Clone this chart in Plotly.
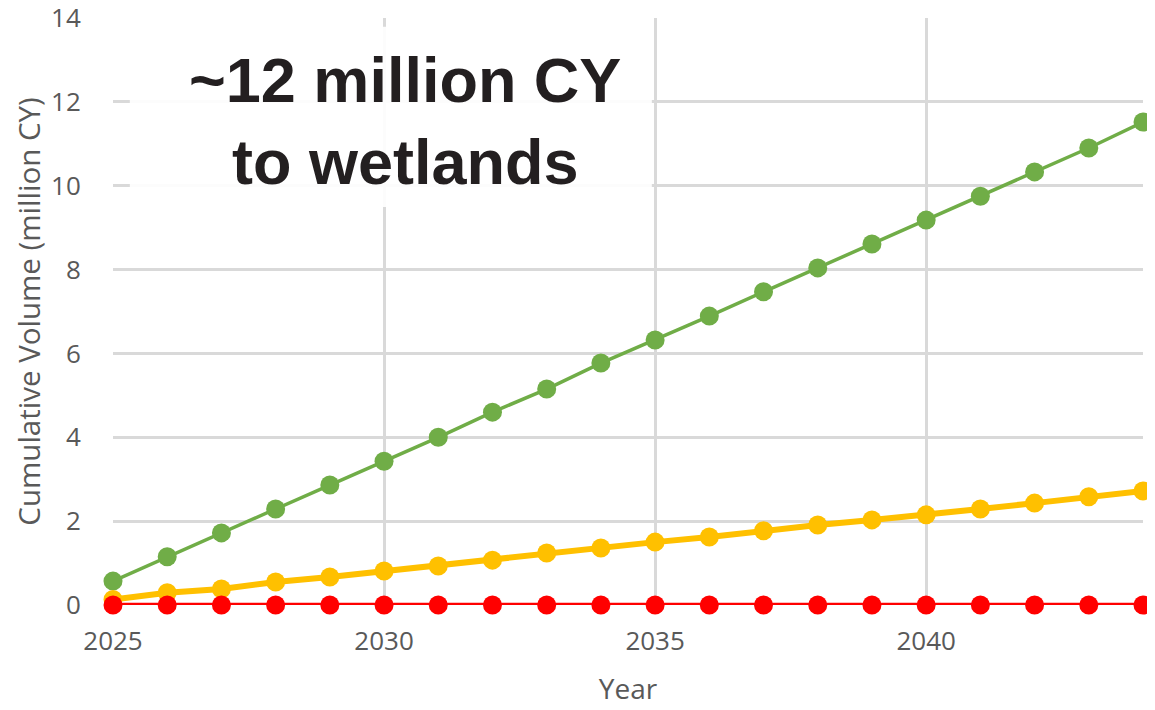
import plotly.graph_objects as go

years = list(range(2025, 2045))
green_vals = [0.57, 1.15, 1.72, 2.29, 2.86, 3.43, 4.0, 4.6, 5.15, 5.77,
              6.32, 6.89, 7.47, 8.04, 8.61, 9.18, 9.75, 10.33, 10.9, 11.52]
yellow_vals = [0.13, 0.29, 0.38, 0.55, 0.67, 0.81, 0.93, 1.07, 1.24, 1.36,
               1.5, 1.62, 1.77, 1.91, 2.03, 2.15, 2.29, 2.43, 2.58, 2.72]
red_vals = [0.0] * 20
x_ticks = [2025, 2030, 2035, 2040]
y_ticks = [0, 2, 4, 6, 8, 10, 12, 14]

fig = go.Figure()
fig.add_trace(go.Scatter(x=years, y=green_vals, mode="lines+markers",
                         line=dict(color="#70AD47", width=3.5),
                         marker=dict(color="#70AD47", size=19), cliponaxis=False))
fig.add_trace(go.Scatter(x=years, y=yellow_vals, mode="lines+markers",
                         line=dict(color="#FFC000", width=6),
                         marker=dict(color="#FFC000", size=19), cliponaxis=False))
fig.add_trace(go.Scatter(x=years, y=red_vals, mode="lines+markers",
                         line=dict(color="#FF0000", width=4.5),
                         marker=dict(color="#FF0000", size=19), cliponaxis=False))

font_fam = "Open Sans, Noto Sans, sans-serif"
# The page body has an 8px default margin, so the figure is sized to fit the window.
fig.update_layout(
    width=1147, height=702,
    margin=dict(l=105, r=12, t=10, b=105),
    paper_bgcolor="white", plot_bgcolor="white",
    showlegend=False,
    font=dict(family=font_fam, color="#595959", size=26),
    xaxis=dict(range=[2025, 2044], tickvals=x_ticks, ticktext=[str(v) for v in x_ticks],
               showgrid=True, gridcolor="#D9D9D9", gridwidth=2.5,
               zeroline=False, showline=False, automargin=False,
               ticks="outside", ticklen=13, tickcolor="rgba(0,0,0,0)",
               ticklabeloverflow="allow",
               tickfont=dict(size=26, color="#595959"),
               title=dict(text="Year", font=dict(size=28, color="#595959"), standoff=22)),
    yaxis=dict(range=[0, 14], tickvals=y_ticks,
               showgrid=True, gridcolor="#D9D9D9", gridwidth=2.5,
               zeroline=False, showline=False, automargin=False,
               ticks="outside", ticklen=26, tickcolor="rgba(0,0,0,0)",
               ticklabeloverflow="allow",
               tickfont=dict(size=26, color="#595959"),
               title=dict(text="Cumulative Volume (million CY)",
                          font=dict(size=29.5, color="#595959"), standoff=5)),
)

# white text panel behind the callout
fig.add_shape(type="rect", xref="x", yref="y",
              x0=2025.31, x1=2034.94, y0=9.49, y1=13.79,
              fillcolor="rgba(255,255,255,0.9)", line=dict(width=0), layer="above")

fig.add_annotation(
    x=2030.13, y=11.64, xref="x", yref="y",
    text="<b>~12 million CY<br>to wetlands</b>",
    showarrow=False, xshift=14, yshift=-4,
    font=dict(family="Liberation Sans, Arial, sans-serif", size=63, color="#231F20"),
)

fig.write_html("out.html")
